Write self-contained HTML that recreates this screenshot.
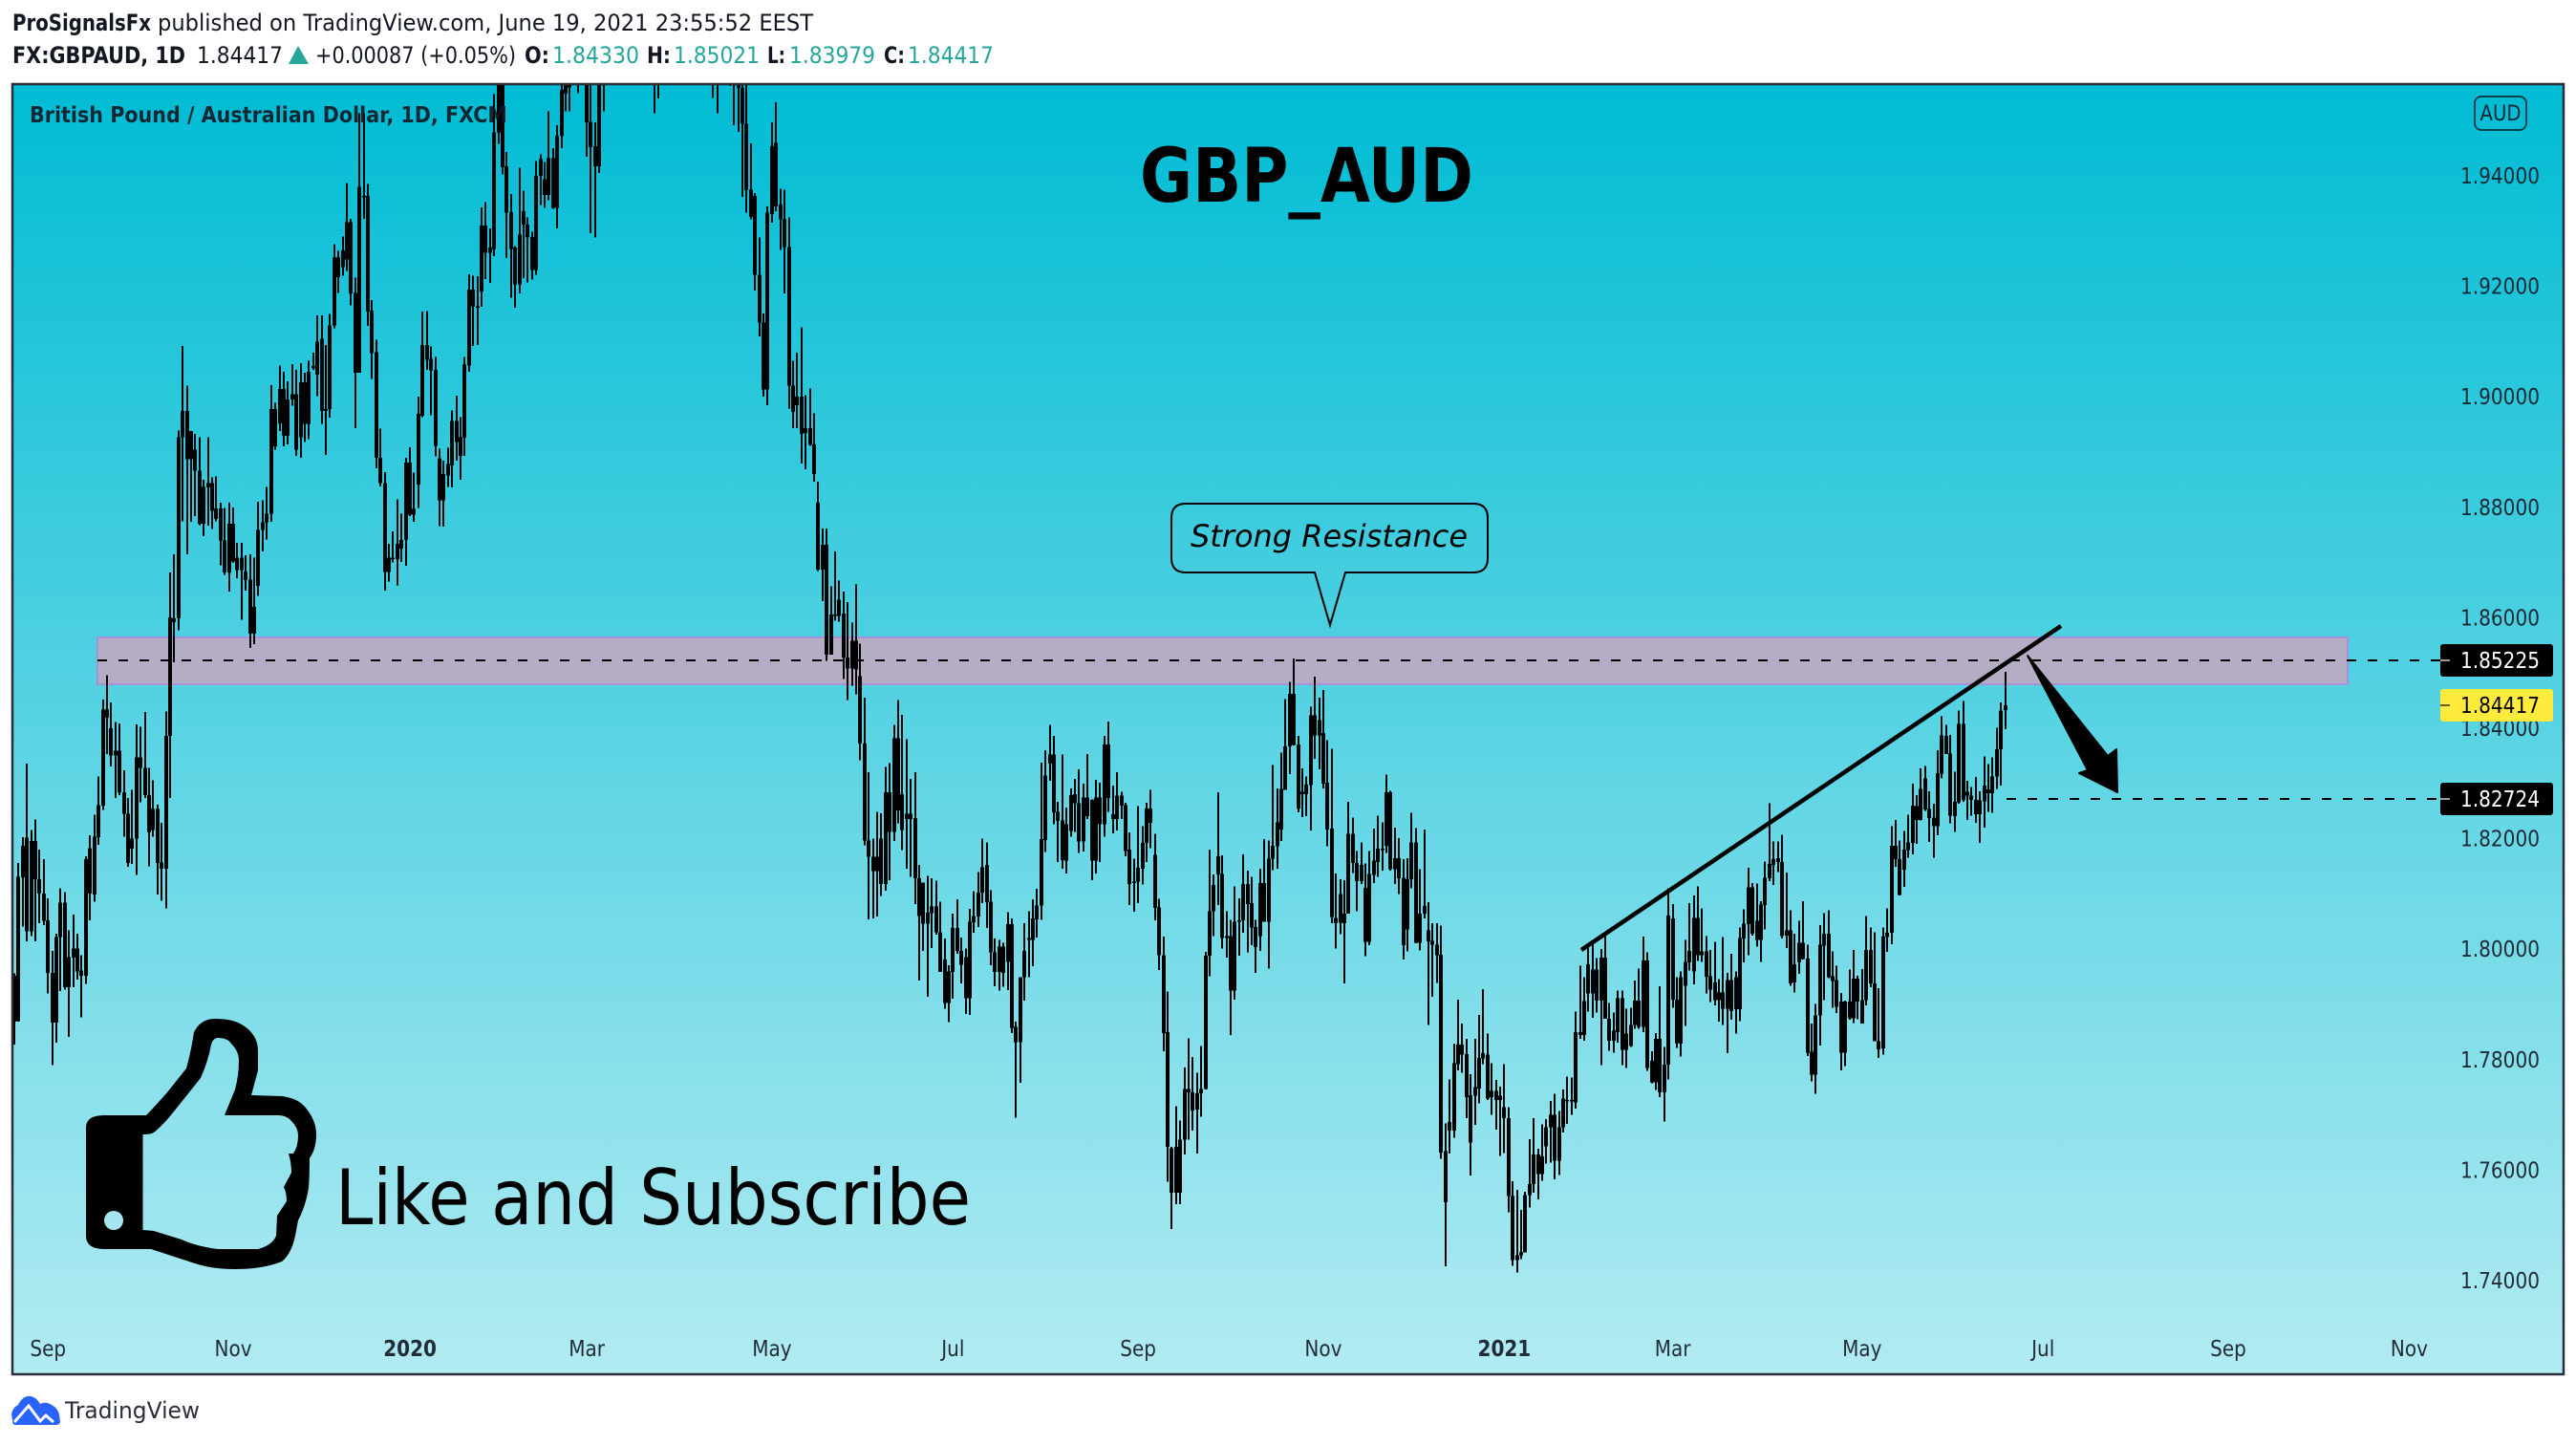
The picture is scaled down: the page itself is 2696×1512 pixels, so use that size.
<!DOCTYPE html>
<html lang="en">
<head>
<meta charset="utf-8">
<title>GBP_AUD chart</title>
<style>
html,body{margin:0;padding:0;background:#fff;width:2696px;height:1512px;overflow:hidden}
svg{display:block}
text{font-family:"Liberation Sans",sans-serif}
.dj{font-family:"DejaVu Sans",sans-serif}
</style>
</head>
<body>
<svg id="chart" xmlns="http://www.w3.org/2000/svg" width="2696" height="1512" viewBox="0 0 2696 1512">
<defs>
<linearGradient id="paneFill" x1="0" y1="0" x2="0" y2="1"><stop offset="0" stop-color="#00bcd4"/><stop offset="1" stop-color="#b2ebf2"/></linearGradient>
<clipPath id="paneClip"><rect x="14" y="89" width="2668" height="1348"/></clipPath>
</defs>
<rect x="0" y="0" width="2696" height="1512" fill="#fff"/>

<g font-size="24" fill="#131722" class="dj">
<text class="dj" x="13" y="32" font-weight="bold" textLength="145" lengthAdjust="spacingAndGlyphs">ProSignalsFx</text>
<text class="dj" x="165" y="32" textLength="686" lengthAdjust="spacingAndGlyphs">published on TradingView.com, June 19, 2021 23:55:52 EEST</text>
</g>
<g font-size="24" fill="#131722">
<text class="dj" x="13" y="66" font-weight="bold" textLength="181" lengthAdjust="spacingAndGlyphs">FX:GBPAUD, 1D</text>
<text class="dj" x="206" y="66" textLength="90" lengthAdjust="spacingAndGlyphs">1.84417</text>
<polygon points="312,48 302,67 323,67" fill="#26a69a"/>
<text class="dj" x="330" y="66" textLength="210" lengthAdjust="spacingAndGlyphs">+0.00087 (+0.05%)</text>
<text class="dj" x="549" y="66" font-weight="bold" textLength="26" lengthAdjust="spacingAndGlyphs">O:</text>
<text class="dj" x="578" y="66" fill="#26a69a" textLength="91" lengthAdjust="spacingAndGlyphs">1.84330</text>
<text class="dj" x="677" y="66" font-weight="bold" textLength="25" lengthAdjust="spacingAndGlyphs">H:</text>
<text class="dj" x="705" y="66" fill="#26a69a" textLength="90" lengthAdjust="spacingAndGlyphs">1.85021</text>
<text class="dj" x="803" y="66" font-weight="bold" textLength="19" lengthAdjust="spacingAndGlyphs">L:</text>
<text class="dj" x="826" y="66" fill="#26a69a" textLength="90" lengthAdjust="spacingAndGlyphs">1.83979</text>
<text class="dj" x="925" y="66" font-weight="bold" textLength="22" lengthAdjust="spacingAndGlyphs">C:</text>
<text class="dj" x="950" y="66" fill="#26a69a" textLength="90" lengthAdjust="spacingAndGlyphs">1.84417</text>
</g>

<rect x="13" y="88" width="2670" height="1350" fill="url(#paneFill)"/>

<rect x="102" y="667" width="2355" height="49" fill="#b4adc4" stroke="#a990d8" stroke-width="2"/>
<g id="candles" clip-path="url(#paneClip)" shape-rendering="crispEdges"></g>

<line x1="102" y1="691" x2="2554" y2="691" stroke="#000" stroke-width="2" stroke-dasharray="10 12"/>
<line x1="2100" y1="836" x2="2554" y2="836" stroke="#000" stroke-width="2" stroke-dasharray="10 12"/>

<line x1="1655" y1="994" x2="2157" y2="655" stroke="#000" stroke-width="4.5"/>
<polygon points="2122,686 2206,791 2215,784 2216,829 2176,809 2185,806" fill="#000" stroke="#000" stroke-width="2" stroke-linejoin="round"/>

<g>
<path d="M1241 527 H1542 Q1557 527 1557 542 V584 Q1557 599 1542 599 H1408 L1392 654 L1376 599 H1241 Q1226 599 1226 584 V542 Q1226 527 1241 527 Z" fill="none" stroke="#000" stroke-width="2"/>
<text class="dj" x="1246" y="572" font-size="32" font-style="italic" fill="#000" textLength="290" lengthAdjust="spacingAndGlyphs">Strong Resistance</text>
</g>

<text class="dj" x="1193" y="211" font-size="78" font-weight="bold" fill="#000" textLength="349" lengthAdjust="spacingAndGlyphs">GBP_AUD</text>
<text class="dj" x="31" y="128" font-size="23" font-weight="bold" fill="#131722" fill-opacity="0.9" textLength="500" lengthAdjust="spacingAndGlyphs">British Pound / Australian Dollar, 1D, FXCM</text>

<g>
<path fill-rule="evenodd" fill="#000" d="M90 1180 Q90 1167 109 1167 L153 1167 Q160 1160 175 1143 L195 1118 Q200 1100 203 1080 Q210 1066 225 1066 Q243 1066 253 1072 Q270 1082 270 1100 L270 1120 L263 1146 L295 1147 Q311 1149 319 1158 Q331 1172 331 1187 Q331 1202 324 1212 Q324 1230 323 1243 Q320 1262 312 1277 L309 1293 Q305 1312 295 1320 Q275 1328 246 1328 Q222 1328 204 1322 L158 1307 L109 1307 Q90 1307 90 1293 Z
M149.500 1187 Q158 1187 161 1185 Q172 1176 182 1163 L210 1128 Q218 1110 221 1093 Q223 1086 228 1086 Q238 1086 242 1092 Q250 1100 250 1110 Q250 1125 246 1140 L235 1167 L291 1167 Q300 1167 305 1173 Q312 1180 312 1188 Q312 1200 307 1207 L302 1207 Q305 1217 305 1227 L297 1242 Q300 1248 300 1257 L290 1272 L289 1293 Q285 1303 270 1307 L228 1307 Q205 1304 190 1297 L161 1288 L149.500 1287 Z"/>
<ellipse cx="119" cy="1277" rx="10" ry="10" fill="#a3e6ef"/>
<text class="dj" x="351" y="1281" font-size="80" fill="#000" textLength="665" lengthAdjust="spacingAndGlyphs">Like and Subscribe</text>
</g>

<g id="priceAxis"></g>
<g id="timeAxis"></g>

<g>
<rect x="2554" y="674" width="118" height="34" rx="3" fill="#000"/>
<line x1="2554" y1="691" x2="2564" y2="691" stroke="#999" stroke-width="2"/>
<text class="dj" x="2575" y="699" font-size="23" fill="#fff" textLength="83" lengthAdjust="spacingAndGlyphs">1.85225</text>
</g>
<g>
<rect x="2554" y="721" width="118" height="34" rx="3" fill="#ffeb3b"/>
<line x1="2554" y1="738" x2="2564" y2="738" stroke="#665e00" stroke-width="2"/>
<text class="dj" x="2575" y="746" font-size="23" fill="#000" textLength="83" lengthAdjust="spacingAndGlyphs">1.84417</text>
</g>
<g>
<rect x="2554" y="819" width="118" height="34" rx="3" fill="#000"/>
<line x1="2554" y1="836" x2="2564" y2="836" stroke="#999" stroke-width="2"/>
<text class="dj" x="2575" y="844" font-size="23" fill="#fff" textLength="83" lengthAdjust="spacingAndGlyphs">1.82724</text>
</g>

<g>
<rect x="2590" y="101" width="54" height="35" rx="7" fill="none" stroke="#131722" stroke-opacity="0.75" stroke-width="2"/>
<text class="dj" x="2617" y="126" font-size="22" text-anchor="middle" fill="#131722" fill-opacity="0.9" textLength="43" lengthAdjust="spacingAndGlyphs">AUD</text>
</g>

<rect x="13" y="88" width="2670" height="1350" fill="none" stroke="#2a2e39" stroke-width="2.500"/>

<g>
<path d="M13 1486 L12 1480 Q13 1473 19 1470 Q24 1460 32 1461 Q38 1462 42 1469 Q48 1466 54 1470 Q60 1473 62 1480 L63 1488 Q62 1491 58 1491 L16 1491 Q13 1491 13 1486 Z" fill="#2962ff"/>
<polyline points="15,1488 30,1471 42,1487 48,1481 56,1488" fill="none" stroke="#fff" stroke-width="3"/>
<text class="dj" x="68" y="1484" font-size="24" fill="#2a2e39" textLength="141" lengthAdjust="spacingAndGlyphs">TradingView</text>
</g>
</svg>

<script>
const priceTicks = [1.74,1.76,1.78,1.80,1.82,1.84,1.86,1.88,1.90,1.92,1.94];
const priceTickLabels = ["1.74000","1.76000","1.78000","1.80000","1.82000","1.84000","1.86000","1.88000","1.90000","1.92000","1.94000"];
const timeLabels = ["Sep","Nov","2020","Mar","May","Jul","Sep","Nov","2021","Mar","May","Jul","Sep","Nov"];
const timeBars = [8,52,94,136,180,223,267,311,354,394,439,482,526,569];
const boldTimeLabels = ["2020","2021"];

const highs = [
1.7956,1.8156,1.8203,1.8336,1.8216,1.8235,1.8180,1.8163,1.8092,1.7997,
1.8028,1.8110,1.8103,1.8034,1.8063,1.8028,1.7989,1.8168,1.8206,1.8243,
1.8313,1.8452,1.8496,1.8447,1.8411,1.8409,1.8324,1.8274,1.8288,1.8407,
1.8403,1.8429,1.8328,1.8306,1.8262,1.8229,1.8430,1.8682,1.8715,1.8939,
1.9092,1.9020,1.8938,1.8933,1.8927,1.8850,1.8927,1.8854,1.8856,1.8808,
1.8799,1.8808,1.8800,1.8736,1.8736,1.8713,1.8715,1.8709,1.8810,1.8813,
1.8837,1.9021,1.8989,1.9057,1.9045,1.9028,1.9059,1.9049,1.9061,1.9044,
1.9065,1.9080,1.9147,1.9147,1.9094,1.9150,1.9276,1.9264,1.9290,1.9387,
1.9322,1.9216,1.9513,1.9513,1.9385,1.9175,1.9103,1.8942,1.8864,1.8734,
1.8756,1.8814,1.8788,1.8890,1.8909,1.8863,1.9000,1.9154,1.9155,1.9091,
1.9072,1.8906,1.8884,1.8908,1.8975,1.9002,1.8963,1.9072,1.9222,1.9219,
1.9218,1.9343,1.9352,1.9305,1.9548,1.9600,1.9600,1.9443,1.9367,1.9273,
1.9415,1.9373,1.9325,1.9299,1.9427,1.9439,1.9425,1.9517,1.9450,1.9492,
1.9566,1.9620,1.9610,1.9640,1.9660,1.9700,1.9750,1.9590,1.9497,1.9720,
1.9800,1.9880,1.9930,2.0000,2.0120,2.0300,2.0620,2.0780,2.0600,2.0400,
2.0200,2.0050,1.9900,1.9820,2.0000,2.0100,2.0120,2.0020,1.9960,1.9950,
1.9900,1.9880,1.9850,1.9800,1.9790,1.9760,1.9720,1.9700,1.9690,1.9680,
1.9670,1.9660,1.9640,1.9566,1.9566,1.9459,1.9369,1.9288,1.9151,1.9345,
1.9497,1.9533,1.9377,1.9375,1.9325,1.9065,1.9080,1.9126,1.9003,1.9015,
1.8970,1.8846,1.8762,1.8762,1.8657,1.8720,1.8667,1.8647,1.8628,1.8591,
1.8660,1.8553,1.8455,1.8320,1.8200,1.8249,1.8246,1.8330,1.8337,1.8406,
1.8451,1.8424,1.8380,1.8308,1.8320,1.8153,1.8121,1.8133,1.8128,1.8124,
1.8086,1.8019,1.7971,1.8064,1.8090,1.8021,1.8001,1.8073,1.8105,1.8140,
1.8200,1.8193,1.8107,1.8019,1.8017,1.8012,1.8067,1.8056,1.7869,1.7949,
1.8047,1.8069,1.8090,1.8109,1.8338,1.8360,1.8406,1.8386,1.8267,1.8352,
1.8256,1.8291,1.8308,1.8326,1.8300,1.8353,1.8271,1.8307,1.8301,1.8386,
1.8412,1.8296,1.8320,1.8285,1.8265,1.8211,1.8164,1.8259,1.8223,1.8265,
1.8288,1.8209,1.8091,1.8023,1.7923,1.7642,1.7716,1.7690,1.7786,1.7839,
1.7805,1.7776,1.7825,1.7995,1.8180,1.8135,1.8284,1.8170,1.8069,1.8053,
1.8114,1.8092,1.8172,1.8142,1.8131,1.8053,1.8146,1.8199,1.8197,1.8333,
1.8291,1.8356,1.8453,1.8484,1.8526,1.8386,1.8327,1.8313,1.8439,1.8493,
1.8455,1.8469,1.8378,1.8363,1.8137,1.8127,1.8125,1.8267,1.8238,1.8178,
1.8193,1.8155,1.8178,1.8218,1.8242,1.8230,1.8316,1.8287,1.8220,1.8201,
1.8163,1.8165,1.8247,1.8219,1.8145,1.8217,1.8085,1.8047,1.8047,1.8043,
1.7685,1.7764,1.7829,1.7909,1.7865,1.7838,1.7774,1.7838,1.7881,1.7928,
1.7847,1.7794,1.7763,1.7751,1.7792,1.7714,1.7580,1.7564,1.7528,1.7561,
1.7656,1.7694,1.7639,1.7683,1.7692,1.7725,1.7738,1.7707,1.7746,1.7769,
1.7768,1.7887,1.7970,1.7949,1.8007,1.8011,1.7984,1.8000,1.8024,1.7903,
1.7885,1.7925,1.7925,1.7892,1.7894,1.7943,1.7965,1.8023,1.7994,1.7815,
1.7848,1.7933,1.7823,1.8110,1.8082,1.7949,1.7960,1.8017,1.8083,1.8097,
1.8114,1.8074,1.8024,1.7999,1.8013,1.7946,1.8022,1.7957,1.7992,1.7960,
1.8039,1.8072,1.8147,1.8120,1.8119,1.8087,1.8159,1.8264,1.8195,1.8195,
1.8207,1.8139,1.8070,1.8028,1.8051,1.8087,1.8008,1.7865,1.7901,1.8044,
1.8065,1.8070,1.7996,1.7970,1.7921,1.7907,1.7963,1.7999,1.7952,1.7964,
1.8060,1.8039,1.8031,1.7929,1.8039,1.8074,1.8223,1.8234,1.8197,1.8214,
1.8243,1.8300,1.8279,1.8327,1.8332,1.8286,1.8263,1.8360,1.8422,1.8406,
1.8388,1.8321,1.8432,1.8449,1.8305,1.8294,1.8312,1.8286,1.8349,1.8335,
1.8347,1.8401,1.8447,1.85021];

const bodyTops = [
1.7952,1.8131,1.8187,1.8202,1.8196,1.8196,1.8127,1.8101,1.8052,1.7957,
1.8022,1.8084,1.8084,1.7986,1.8001,1.8001,1.7961,1.8163,1.8183,1.8204,
1.8261,1.8434,1.8434,1.8400,1.8359,1.8359,1.8284,1.8245,1.8200,1.8347,
1.8347,1.8328,1.8279,1.8254,1.8254,1.8157,1.8386,1.8601,1.8599,1.8927,
1.8974,1.8974,1.8938,1.8904,1.8866,1.8837,1.8844,1.8844,1.8798,1.8798,
1.8740,1.8770,1.8770,1.8709,1.8709,1.8684,1.8669,1.8620,1.8759,1.8773,
1.8788,1.8978,1.8978,1.9014,1.9014,1.8995,1.9005,1.9005,1.9026,1.9026,
1.9045,1.9056,1.9100,1.9105,1.8978,1.9129,1.9252,1.9252,1.9265,1.9316,
1.9316,1.9188,1.9380,1.9364,1.9364,1.9156,1.9081,1.8890,1.8844,1.8709,
1.8709,1.8734,1.8741,1.8881,1.8881,1.8797,1.8969,1.9094,1.9094,1.9069,
1.9049,1.8889,1.8860,1.8878,1.8956,1.8956,1.8927,1.9058,1.9194,1.9194,
1.9164,1.9310,1.9310,1.9270,1.9479,1.9570,1.9570,1.9417,1.9334,1.9270,
1.9294,1.9336,1.9312,1.9289,1.9400,1.9430,1.9394,1.9432,1.9432,1.9473,
1.9556,1.9580,1.9590,1.9610,1.9620,1.9640,1.9640,1.9498,1.9454,1.9680,
1.9760,1.9840,1.9900,1.9960,2.0080,2.0220,2.0550,2.0700,2.0520,2.0330,
2.0120,1.9980,1.9780,1.9700,1.9900,2.0020,2.0050,1.9950,1.9880,1.9860,
1.9820,1.9780,1.9760,1.9720,1.9710,1.9700,1.9660,1.9640,1.9650,1.9640,
1.9630,1.9620,1.9600,1.9559,1.9494,1.9375,1.9364,1.9221,1.9134,1.9333,
1.9454,1.9460,1.9348,1.9321,1.9271,1.9020,1.9000,1.9000,1.8943,1.8943,
1.8914,1.8808,1.8732,1.8732,1.8606,1.8606,1.8633,1.8608,1.8528,1.8558,
1.8558,1.8494,1.8372,1.8197,1.8167,1.8167,1.8200,1.8284,1.8284,1.8382,
1.8382,1.8281,1.8245,1.8245,1.8237,1.8128,1.8121,1.8066,1.8077,1.8077,
1.8031,1.7981,1.7960,1.8038,1.8038,1.7997,1.7986,1.8050,1.8060,1.8102,
1.8148,1.8153,1.8086,1.7994,1.8005,1.8005,1.8045,1.8045,1.7859,1.7949,
1.7997,1.8020,1.8056,1.8079,1.8199,1.8314,1.8352,1.8352,1.8249,1.8233,
1.8226,1.8279,1.8281,1.8264,1.8275,1.8275,1.8270,1.8275,1.8275,1.8371,
1.8371,1.8244,1.8278,1.8278,1.8261,1.8180,1.8122,1.8147,1.8192,1.8255,
1.8255,1.8171,1.8076,1.7989,1.7850,1.7640,1.7642,1.7655,1.7747,1.7747,
1.7741,1.7739,1.7747,1.7988,1.8069,1.8116,1.8168,1.8136,1.8024,1.8024,
1.8050,1.8052,1.8118,1.8118,1.8083,1.8040,1.8120,1.8120,1.8164,1.8187,
1.8230,1.8290,1.8367,1.8462,1.8462,1.8371,1.8285,1.8298,1.8423,1.8423,
1.8415,1.8391,1.8301,1.8218,1.8057,1.8100,1.8064,1.8209,1.8209,1.8156,
1.8153,1.8111,1.8136,1.8160,1.8182,1.8182,1.8284,1.8284,1.8165,1.8165,
1.8129,1.8127,1.8193,1.8193,1.8064,1.8078,1.8034,1.8015,1.8008,1.7990,
1.7634,1.7687,1.7794,1.7827,1.7827,1.7810,1.7736,1.7750,1.7803,1.7812,
1.7809,1.7743,1.7743,1.7735,1.7714,1.7694,1.7553,1.7446,1.7451,1.7555,
1.7575,1.7628,1.7628,1.7625,1.7678,1.7700,1.7700,1.7678,1.7730,1.7727,
1.7727,1.7850,1.7850,1.7906,1.7973,1.7963,1.7963,1.7985,1.7985,1.7874,
1.7852,1.7911,1.7911,1.7847,1.7863,1.7907,1.7907,1.7980,1.7980,1.7798,
1.7838,1.7838,1.7791,1.8061,1.8056,1.7909,1.7949,1.7977,1.7997,1.8057,
1.8057,1.7996,1.7996,1.7951,1.7940,1.7922,1.7922,1.7944,1.7944,1.7949,
1.8020,1.8046,1.8112,1.8112,1.8051,1.8081,1.8129,1.8154,1.8163,1.8165,
1.8158,1.8034,1.8034,1.7973,1.8012,1.8012,1.7983,1.7814,1.7880,1.8008,
1.8028,1.8028,1.7951,1.7944,1.7905,1.7905,1.7905,1.7947,1.7947,1.7908,
1.7999,1.7999,1.7938,1.7833,1.8023,1.8030,1.8187,1.8187,1.8163,1.8180,
1.8193,1.8260,1.8259,1.8290,1.8309,1.8254,1.8238,1.8319,1.8387,1.8386,
1.8354,1.8267,1.8408,1.8408,1.8285,1.8278,1.8270,1.8269,1.8296,1.8289,
1.8313,1.8362,1.8432,1.84417];

const bodyBottoms = [
1.7869,1.7870,1.8130,1.8032,1.8032,1.8127,1.8101,1.8051,1.7957,1.7867,
1.7867,1.8022,1.7931,1.7931,1.7985,1.7960,1.7952,1.7952,1.8101,1.8099,
1.8203,1.8260,1.8419,1.8351,1.8351,1.8284,1.8245,1.8156,1.8182,1.8200,
1.8328,1.8279,1.8211,1.8216,1.8156,1.8146,1.8146,1.8386,1.8592,1.8599,
1.8927,1.8887,1.8887,1.8866,1.8770,1.8770,1.8836,1.8794,1.8779,1.8740,
1.8682,1.8682,1.8702,1.8686,1.8686,1.8668,1.8571,1.8571,1.8658,1.8759,
1.8773,1.8788,1.8910,1.8952,1.8929,1.8929,1.8995,1.8904,1.8927,1.8951,
1.8951,1.9052,1.9040,1.8974,1.8974,1.8978,1.9129,1.9217,1.9235,1.9249,
1.9187,1.9044,1.9044,1.9362,1.9154,1.9079,1.8890,1.8844,1.8683,1.8683,
1.8706,1.8706,1.8725,1.8741,1.8787,1.8787,1.8841,1.8966,1.9067,1.9048,
1.8911,1.8813,1.8813,1.8858,1.8876,1.8918,1.8893,1.8926,1.9057,1.9163,
1.9163,1.9191,1.9261,1.9261,1.9268,1.9479,1.9416,1.9333,1.9268,1.9204,
1.9204,1.9312,1.9288,1.9230,1.9230,1.9400,1.9365,1.9365,1.9342,1.9342,
1.9473,1.9550,1.9560,1.9590,1.9590,1.9600,1.9497,1.9452,1.9417,1.9417,
1.9650,1.9720,1.9830,1.9880,1.9950,2.0060,2.0200,2.0450,2.0300,2.0150,
1.9950,1.9780,1.9620,1.9600,1.9700,1.9880,1.9900,1.9820,1.9760,1.9750,
1.9720,1.9700,1.9680,1.9660,1.9650,1.9640,1.9600,1.9580,1.9610,1.9600,
1.9590,1.9585,1.9559,1.9494,1.9374,1.9326,1.9221,1.9134,1.9013,1.9013,
1.9331,1.9345,1.9321,1.9271,1.9020,1.8973,1.8985,1.8933,1.8935,1.8913,
1.8860,1.8687,1.8687,1.8533,1.8533,1.8603,1.8603,1.8528,1.8508,1.8508,
1.8506,1.8372,1.8197,1.8167,1.8141,1.8141,1.8118,1.8118,1.8212,1.8212,
1.8251,1.8216,1.8236,1.8236,1.8128,1.8060,1.8046,1.8046,1.8065,1.8031,
1.7959,1.7903,1.7903,1.7959,1.7997,1.7972,1.7911,1.7911,1.8049,1.8059,
1.8102,1.8085,1.7994,1.7959,1.7959,1.7957,1.7977,1.7858,1.7832,1.7832,
1.7949,1.8017,1.8017,1.8054,1.8079,1.8198,1.8336,1.8248,1.8232,1.8161,
1.8160,1.8214,1.8264,1.8195,1.8195,1.8241,1.8160,1.8160,1.8226,1.8226,
1.8274,1.8236,1.8236,1.8260,1.8178,1.8118,1.8121,1.8122,1.8146,1.8192,
1.8229,1.8075,1.7989,1.7848,1.7642,1.7559,1.7559,1.7559,1.7655,1.7741,
1.7708,1.7710,1.7739,1.7747,1.7988,1.8069,1.8135,1.8020,1.8020,1.7925,
1.7925,1.8050,1.8052,1.8082,1.8039,1.8004,1.8024,1.8050,1.8050,1.8164,
1.8186,1.8217,1.8288,1.8367,1.8370,1.8255,1.8281,1.8281,1.8297,1.8387,
1.8387,1.8300,1.8217,1.8058,1.8047,1.8048,1.8047,1.8064,1.8156,1.8123,
1.8123,1.8013,1.8013,1.8134,1.8158,1.8181,1.8187,1.8145,1.8145,1.8128,
1.8007,1.8036,1.8127,1.8012,1.8012,1.8064,1.8014,1.8008,1.7989,1.7632,
1.7542,1.7672,1.7672,1.7792,1.7809,1.7732,1.7650,1.7735,1.7748,1.7802,
1.7730,1.7732,1.7727,1.7727,1.7694,1.7553,1.7437,1.7437,1.7446,1.7451,
1.7555,1.7575,1.7593,1.7593,1.7643,1.7678,1.7617,1.7617,1.7678,1.7725,
1.7725,1.7723,1.7845,1.7845,1.7920,1.7920,1.7907,1.7907,1.7874,1.7834,
1.7834,1.7850,1.7818,1.7818,1.7825,1.7863,1.7859,1.7859,1.7785,1.7759,
1.7759,1.7741,1.7741,1.7791,1.7909,1.7830,1.7829,1.7934,1.7976,1.7960,
1.7989,1.7989,1.7950,1.7927,1.7908,1.7908,1.7892,1.7892,1.7888,1.7891,
1.7891,1.8019,1.8045,1.8028,1.8017,1.8017,1.8080,1.8128,1.8153,1.8158,
1.8024,1.8025,1.7938,1.7940,1.7976,1.7982,1.7813,1.7773,1.7773,1.7880,
1.8006,1.7949,1.7942,1.7896,1.7813,1.7813,1.7875,1.7875,1.7905,1.7865,
1.7908,1.7938,1.7833,1.7819,1.7820,1.8022,1.8030,1.8163,1.8098,1.8144,
1.8179,1.8192,1.8234,1.8234,1.8253,1.8237,1.8223,1.8223,1.8318,1.8353,
1.8242,1.8241,1.8266,1.8270,1.8278,1.8270,1.8244,1.8244,1.8268,1.8282,
1.8282,1.8313,1.8362,1.84330];

const lows = [
1.7827,1.7869,1.8041,1.8014,1.8024,1.8014,1.8047,1.8044,1.7920,1.7790,
1.7831,1.7924,1.7927,1.7841,1.7931,1.7945,1.7877,1.7937,1.8052,1.8086,
1.8189,1.8252,1.8353,1.8331,1.8274,1.8279,1.8204,1.8149,1.8154,1.8134,
1.8266,1.8274,1.8150,1.8204,1.8099,1.8088,1.8074,1.8274,1.8519,1.8577,
1.8775,1.8715,1.8774,1.8784,1.8768,1.8748,1.8767,1.8761,1.8775,1.8695,
1.8678,1.8647,1.8699,1.8672,1.8596,1.8649,1.8545,1.8552,1.8640,1.8720,
1.8742,1.8774,1.8904,1.8938,1.8910,1.8914,1.8984,1.8893,1.8890,1.8918,
1.8923,1.9049,1.9001,1.8951,1.8895,1.8962,1.9124,1.9188,1.9219,1.9228,
1.9166,1.8943,1.9044,1.9322,1.9128,1.9032,1.8871,1.8838,1.8649,1.8666,
1.8700,1.8659,1.8701,1.8694,1.8784,1.8774,1.8799,1.8963,1.9049,1.8967,
1.8892,1.8766,1.8765,1.8837,1.8836,1.8884,1.8850,1.8893,1.9045,1.9092,
1.9094,1.9163,1.9213,1.9206,1.9255,1.9458,1.9403,1.9251,1.9179,1.9161,
1.9187,1.9215,1.9207,1.9212,1.9221,1.9347,1.9342,1.9356,1.9340,1.9305,
1.9450,1.9517,1.9517,1.9575,1.9550,1.9575,1.9435,1.9296,1.9288,1.9405,
1.9517,1.9660,1.9780,1.9850,1.9920,2.0030,2.0150,2.0380,2.0250,2.0050,
1.9880,1.9700,1.9513,1.9540,1.9640,1.9800,1.9850,1.9780,1.9700,1.9690,
1.9660,1.9640,1.9620,1.9600,1.9590,1.9580,1.9541,1.9513,1.9580,1.9575,
1.9563,1.9492,1.9480,1.9362,1.9333,1.9321,1.9192,1.9109,1.9000,1.8985,
1.9315,1.9336,1.9266,1.9187,1.8979,1.8943,1.8943,1.8879,1.8869,1.8911,
1.8846,1.8685,1.8630,1.8522,1.8533,1.8595,1.8593,1.8489,1.8451,1.8477,
1.8461,1.8342,1.8188,1.8054,1.8056,1.8059,1.8096,1.8106,1.8125,1.8196,
1.8228,1.8179,1.8146,1.8131,1.8082,1.7943,1.7997,1.7914,1.8002,1.8026,
1.7959,1.7892,1.7868,1.7910,1.7992,1.7938,1.7883,1.7881,1.8030,1.8040,
1.8083,1.8038,1.7971,1.7933,1.7925,1.7932,1.7926,1.7848,1.7695,1.7758,
1.7907,1.7949,1.7969,1.8021,1.8053,1.8176,1.8305,1.8226,1.8158,1.8146,
1.8137,1.8204,1.8212,1.8174,1.8177,1.8236,1.8125,1.8137,1.8158,1.8204,
1.8249,1.8210,1.8215,1.8236,1.8168,1.8080,1.8068,1.8083,1.8117,1.8158,
1.8183,1.8052,1.7962,1.7815,1.7579,1.7493,1.7538,1.7538,1.7628,1.7655,
1.7672,1.7630,1.7697,1.7746,1.7951,1.8024,1.8080,1.8001,1.7985,1.7845,
1.7909,1.7988,1.8030,1.7994,1.8007,1.7957,1.7997,1.8050,1.7965,1.8143,
1.8146,1.8196,1.8288,1.8317,1.8369,1.8248,1.8239,1.8241,1.8215,1.8345,
1.8326,1.8291,1.8186,1.8047,1.8001,1.8027,1.7938,1.8064,1.8138,1.8069,
1.8118,1.7987,1.8007,1.8120,1.8131,1.8142,1.8174,1.8142,1.8118,1.8100,
1.7981,1.7996,1.8110,1.8011,1.7998,1.8056,1.7863,1.7914,1.7939,1.7621,
1.7426,1.7630,1.7659,1.7781,1.7776,1.7694,1.7590,1.7682,1.7721,1.7792,
1.7727,1.7700,1.7673,1.7626,1.7631,1.7524,1.7427,1.7415,1.7439,1.7451,
1.7532,1.7559,1.7547,1.7581,1.7612,1.7614,1.7583,1.7591,1.7668,1.7684,
1.7700,1.7711,1.7838,1.7834,1.7887,1.7876,1.7885,1.7790,1.7874,1.7816,
1.7813,1.7831,1.7790,1.7785,1.7823,1.7856,1.7856,1.7850,1.7780,1.7757,
1.7745,1.7732,1.7688,1.7764,1.7894,1.7821,1.7806,1.7861,1.7961,1.7936,
1.7979,1.7977,1.7920,1.7904,1.7898,1.7869,1.7863,1.7812,1.7872,1.7847,
1.7870,1.7976,1.7989,1.8025,1.8005,1.7977,1.8036,1.8123,1.8116,1.8140,
1.8019,1.8002,1.7934,1.7922,1.7955,1.7981,1.7807,1.7761,1.7738,1.7826,
1.7908,1.7948,1.7894,1.7884,1.7781,1.7788,1.7872,1.7866,1.7873,1.7865,
1.7898,1.7931,1.7833,1.7803,1.7809,1.7995,1.8009,1.8149,1.8097,1.8113,
1.8166,1.8172,1.8191,1.8233,1.8250,1.8194,1.8166,1.8206,1.8309,1.8353,
1.8228,1.8212,1.8263,1.8267,1.8234,1.8242,1.8229,1.8192,1.8220,1.8249,
1.8247,1.8290,1.8296,1.83979];

const SVG_NS = 'http://www.w3.org/2000/svg';
function yScale(price){ return 1340 - (price - 1.74) * 5780; }
function xScale(bar){ return 15 + bar * 4.405; }

const candleGroup = document.getElementById('candles');
for (let i = 0; i < highs.length; i++) {
  const cx = Math.round(xScale(i));
  const g = document.createElementNS(SVG_NS, 'g');
  
  
  const wick = document.createElementNS(SVG_NS, 'rect');
  
  
  wick.setAttribute('x', cx - 1);
  wick.setAttribute('width', 2);
  wick.setAttribute('y', yScale(highs[i]));
  wick.setAttribute('height', Math.max(1, yScale(lows[i]) - yScale(highs[i])));
  wick.setAttribute('fill', '#000');
  const body = document.createElementNS(SVG_NS, 'rect');
  
  
  body.setAttribute('x', cx - 2);
  body.setAttribute('width', 4);
  body.setAttribute('y', yScale(bodyTops[i]));
  body.setAttribute('height', Math.max(1.5, yScale(bodyBottoms[i]) - yScale(bodyTops[i])));
  body.setAttribute('fill', '#000');
  g.appendChild(wick);
  g.appendChild(body);
  candleGroup.appendChild(g);
}

const priceAxis = document.getElementById('priceAxis');
priceTicks.forEach(function (tick, k) {
  const t = document.createElementNS(SVG_NS, 'text');
  
  
  t.setAttribute('class', 'dj');
  t.setAttribute('x', 2575);
  t.setAttribute('y', yScale(tick) + 8);
  t.setAttribute('font-size', 23);
  t.setAttribute('fill', '#131722');
  t.setAttribute('fill-opacity', '0.9');
  t.setAttribute('textLength', 83);
  t.setAttribute('lengthAdjust', 'spacingAndGlyphs');
  t.textContent = priceTickLabels[k];
  priceAxis.appendChild(t);
});

const timeAxis = document.getElementById('timeAxis');
timeLabels.forEach(function (label, k) {
  const t = document.createElementNS(SVG_NS, 'text');
  
  
  t.setAttribute('class', 'dj');
  t.setAttribute('x', xScale(timeBars[k]));
  t.setAttribute('y', 1419);
  t.setAttribute('font-size', 23);
  t.setAttribute('text-anchor', 'middle');
  t.setAttribute('fill', '#131722');
  t.setAttribute('fill-opacity', '0.9');
  if (boldTimeLabels.indexOf(label) >= 0) t.setAttribute('font-weight', 'bold');
  t.textContent = label;
  timeAxis.appendChild(t);
  t.setAttribute('textLength', t.getComputedTextLength() * 0.87);
  t.setAttribute('lengthAdjust', 'spacingAndGlyphs');
});
</script>
</body>
</html>
